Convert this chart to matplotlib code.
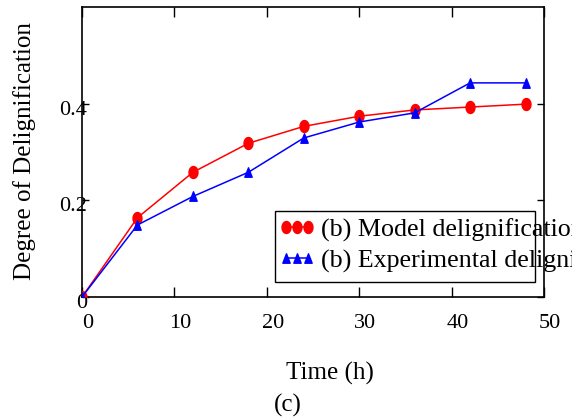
import matplotlib
matplotlib.use("Agg")
import matplotlib.pyplot as plt
import matplotlib.transforms as mtransforms
from matplotlib.path import Path
from matplotlib.patches import Rectangle
import numpy as np

plt.rcParams['font.family'] = ['Liberation Serif', 'DejaVu Serif']

time_h = [0, 6, 12, 18, 24, 30, 36, 42, 48]
model = [0.0, 0.164, 0.258, 0.318, 0.353, 0.374, 0.387, 0.393, 0.399]
experimental = [0.0, 0.149, 0.208, 0.258, 0.329, 0.362, 0.381, 0.443, 0.443]
x_ticks = [0, 10, 20, 30, 40, 50]
y_ticks = [0, 0.2, 0.4]
y_tick_labels = ["0", "0.2", "0.4"]
label_model = "(b) Model delignification"
label_exp = "(b) Experimental delignification"

W, H = 572, 418
fig = plt.figure(figsize=(W / 100, H / 100), dpi=100)
ax = fig.add_axes([82 / W, 1 - 297 / H, (544 - 82) / W, (297 - 7) / H])

# elliptical and tall-triangle markers
t = np.linspace(0, 2 * np.pi, 40)
ell = Path(np.column_stack([0.375 * np.cos(t), 0.5 * np.sin(t)]), closed=True)
tri = Path([(-0.39, -0.5), (0.39, -0.5), (0, 0.5), (-0.39, -0.5)], closed=True)

ax.plot(time_h, model, color='#ff0000', lw=1.1, marker=ell, markersize=8.6,
        markerfacecolor='#ff0000', markeredgecolor='#ff0000', label=label_model, zorder=3)
ax.plot(time_h, experimental, color='#0000ff', lw=1.1, marker=tri, markersize=6.8,
        markerfacecolor='#0000ff', markeredgecolor='#0000ff', label=label_exp, zorder=3)

ax.set_xlim(0, 50)
ax.set_ylim(0, 0.6)
ax.set_xticks(x_ticks)
ax.set_yticks(y_ticks)
ax.set_yticklabels(y_tick_labels)
ax.tick_params(axis='x', direction='in', length=7, width=1, top=True, bottom=True,
               labelsize=16, pad=12.5)
ax.tick_params(axis='y', direction='in', length=5, width=1, left=True, right=True,
               labelsize=16, pad=-3.8)
for s in ax.spines.values():
    s.set_linewidth(1.2)

dx = mtransforms.ScaledTranslation(6 / 100, 0, fig.dpi_scale_trans)
for lab in ax.get_xticklabels():
    lab.set_transform(lab.get_transform() + dx)
dy = mtransforms.ScaledTranslation(0, -4 / 100, fig.dpi_scale_trans)
for lab in ax.get_yticklabels():
    lab.set_transform(lab.get_transform() + dy)

fig.text(25 / W, 1 - 151 / H, "Degree of Delignification", rotation=90,
         ha='center', va='center', fontsize=18)
fig.text(330 / W, 1 - 373 / H, "Time (h)", ha='center', va='center', fontsize=18)
fig.text(288 / W, 1 - 405 / H, "(c)", ha='center', va='center', fontsize=18)

leg = ax.legend(loc='upper left', bbox_to_anchor=(278 / W, 1 - 218 / H),
                bbox_transform=fig.transFigure, frameon=False, numpoints=3,
                handlelength=1.45, handletextpad=0.22, borderpad=0, borderaxespad=0,
                labelspacing=0.3, fontsize=18.7)
leg.set_zorder(2)
for txt in leg.get_texts():
    txt.set_clip_on(False)

rect = Rectangle((275 / W, 1 - 282 / H), 260 / W, 71 / H, transform=fig.transFigure,
                 fill=False, edgecolor='black', lw=1.0, zorder=2.2)
fig.patches.append(rect)

fig.savefig("out.png", dpi=100)
